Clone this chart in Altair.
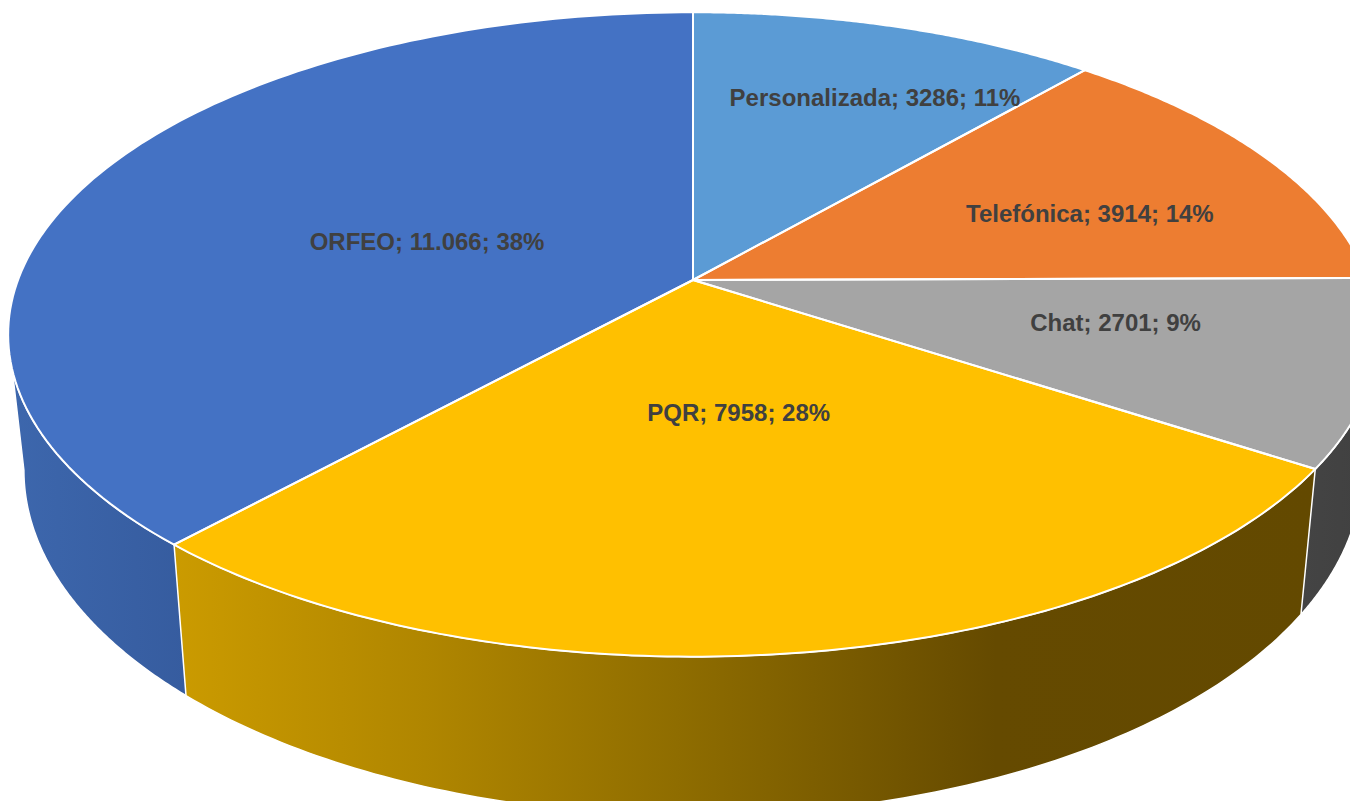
import math
import altair as alt
import pandas as pd

# ---- data -------------------------------------------------------------
categories = ["Personalizada", "Telefónica", "Chat", "PQR", "ORFEO"]
values = [3286, 3914, 2701, 7958, 11066]
colors = ["#5B9BD5", "#ED7D31", "#A5A5A5", "#FFC000", "#4472C4"]

df = pd.DataFrame({"cat": categories, "value": values, "idx": list(range(len(categories)))})

# ---- 3D projection parameters (layout / style) ------------------------
CX, CY = 693, 280      # apex of the pie on screen
A, B = 675, 313        # horizontal / vertical radius
K = 0.169              # perspective strength
H = 132                # depth of the pie
BS = 0.977             # bottom rim shrink (perspective)
N = 120                # points per arc
TS1 = math.acos(-K)    # visible wall range (silhouette angles)
TS2 = 2 * math.pi - TS1

W, HT = 1342, 793
XS = alt.Scale(domain=[8, 8 + W], nice=False, zero=False)
YS = alt.Scale(domain=[8, 8 + HT], nice=False, zero=False, reverse=True)

base = (
    alt.Chart(df)
    .transform_joinaggregate(total="sum(value)")
    .transform_window(cum="sum(value)", sort=[alt.SortField("idx", order="ascending")], frame=[None, 0])
    .transform_calculate(a0="2*PI*(datum.cum - datum.value)/datum.total")
    .transform_calculate(a1="2*PI*datum.cum/datum.total")
    .transform_calculate(frac="datum.value/datum.total")
)


def project(chart, bottom_expr="0"):
    return (
        chart.transform_calculate(u="datum.r*sin(datum.t)")
        .transform_calculate(v="-datum.r*cos(datum.t)")
        .transform_calculate(w=f"1 - {K}*datum.v")
        .transform_calculate(bot=bottom_expr)
        .transform_calculate(px=f"{CX} + (datum.bot ? {BS} : 1)*{A}*datum.u/datum.w")
        .transform_calculate(py=f"{CY} + ({B}*datum.v + datum.bot*{H})/datum.w")
    )


# ---- top faces ----------------------------------------------------------
top_pts = (
    base.transform_calculate(s=f"sequence(-1, {N + 2})")
    .transform_flatten(["s"])
    .transform_calculate(t=f"datum.a0 + (datum.a1 - datum.a0)*clamp(datum.s, 0, {N})/{N}")
    .transform_calculate(r=f"(datum.s < 0 || datum.s > {N}) ? 0 : 1")
)
top_pts = project(top_pts)

enc = dict(
    x=alt.X("px:Q", scale=XS, axis=None),
    y=alt.Y("py:Q", scale=YS, axis=None),
    order=alt.Order("s:Q"),
    detail="cat:N",
)

top_fill = top_pts.mark_line(clip=True, strokeOpacity=0, strokeWidth=0).encode(
    fill=alt.Fill("cat:N", scale=alt.Scale(domain=categories, range=colors), legend=None),
    **enc,
)
top_stroke = top_pts.mark_line(clip=True, stroke="white", strokeWidth=2, strokeJoin="round").encode(**enc)

# ---- walls ----------------------------------------------------------------
wall_pts = (
    base.transform_calculate(b0=f"max(datum.a0, {TS1})")
    .transform_calculate(b1=f"min(datum.a1, {TS2})")
    .transform_filter("datum.b1 > datum.b0")
    .transform_calculate(s=f"sequence(0, {2 * N + 2})")
    .transform_flatten(["s"])
    .transform_calculate(j=f"datum.s > {N} ? {2 * N + 1} - datum.s : datum.s")
    .transform_calculate(t=f"datum.b0 + (datum.b1 - datum.b0)*datum.j/{N}")
    .transform_calculate(r="1")
)
wall_pts = project(wall_pts, bottom_expr=f"datum.s > {N} ? 1 : 0")


def grad(stops):
    return alt.Gradient(
        gradient="linear",
        stops=[alt.GradientStop(offset=o, color=c) for o, c in stops],
        x1=0, x2=1, y1=0, y2=0,
    )


wall_styles = {
    "ORFEO": grad([(0, "#3D67AD"), (1, "#365C9F")]),
    "PQR": grad([(0, "#CB9B00"), (0.22, "#B08600"), (0.44, "#8F6D00"), (0.72, "#654A00"), (1, "#634900")]),
    "Chat": grad([(0, "#444444"), (1, "#404040")]),
}

walls = [
    wall_pts.transform_filter(f"datum.cat == '{name}'")
    .mark_line(clip=True, fill=g, stroke="white", strokeWidth=1.5, strokeJoin="round")
    .encode(**enc)
    for name, g in wall_styles.items()
]

# ---- labels (best-fit style placement rule) ---------------------------------
label_pts = (
    base.transform_calculate(m="(datum.a0 + datum.a1)/2")
    .transform_calculate(t="datum.m + 0.12*sin(2*datum.m)")
    .transform_calculate(r="0.734 + 0.082*cos(datum.m) - 0.9*datum.frac")
    .transform_calculate(
        label="datum.cat + '; ' + (datum.value >= 10000 ? replace(format(datum.value, ','), ',', '.') : datum.value)"
        " + '; ' + format(datum.frac, '.0%')"
    )
)
label_pts = project(label_pts)
labels = label_pts.mark_text(
    font="Liberation Sans", fontSize=24, fontWeight="bold", color="#404040", clip=True
).encode(
    x=alt.X("px:Q", scale=XS, axis=None),
    y=alt.Y("py:Q", scale=YS, axis=None),
    text="label:N",
)

chart = (
    alt.layer(*walls, top_fill, top_stroke, labels)
    .properties(width=W, height=HT, padding=0)
    .configure_view(stroke=None)
)

chart.save("out.html", embed_options={"renderer": "svg", "actions": False})
